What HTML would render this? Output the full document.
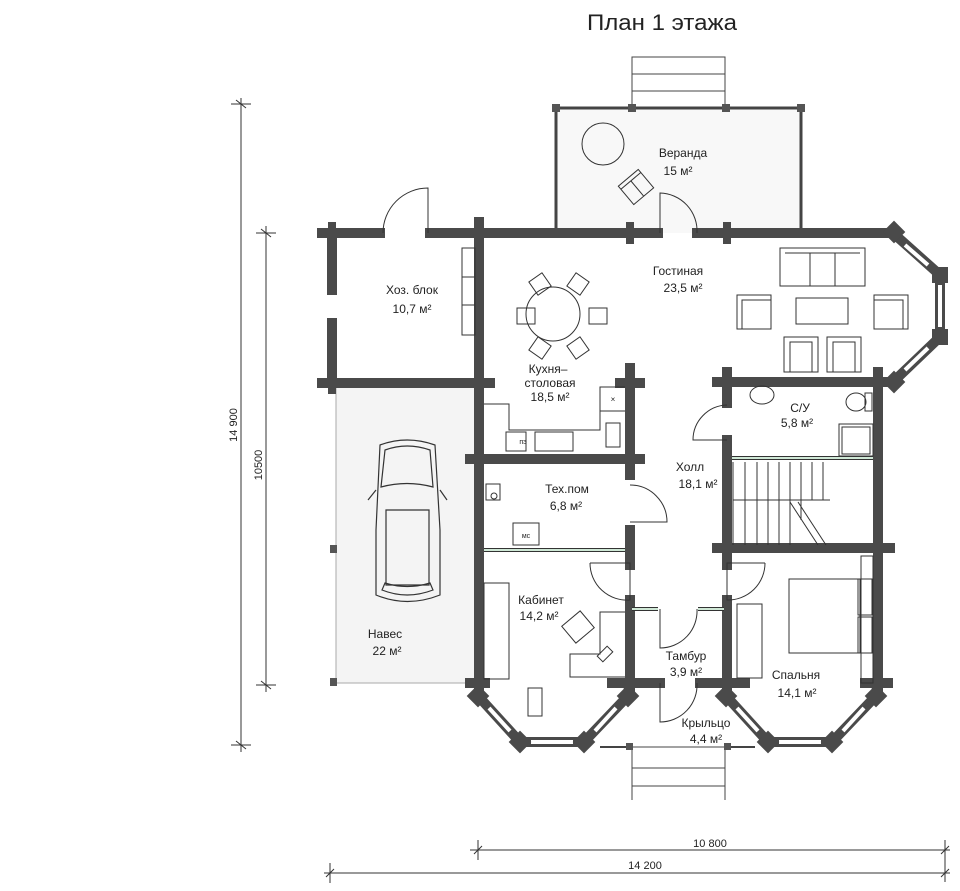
<!DOCTYPE html>
<html><head><meta charset="utf-8">
<style>
html,body{margin:0;padding:0;background:#fff;}
svg{display:block;}
text{font-family:"Liberation Sans Narrow","Liberation Sans",sans-serif;fill:#222;}
</style></head>
<body>
<svg width="960" height="891" viewBox="0 0 960 891" xmlns="http://www.w3.org/2000/svg">
<text x="662" y="30" font-size="22" text-anchor="middle" fill="#111" textLength="150" lengthAdjust="spacingAndGlyphs">План 1 этажа</text>

<rect x="336" y="383" width="142" height="300" fill="#f4f4f4" stroke="#aaa" stroke-width="1"/>
<rect x="556" y="108" width="245" height="125" fill="#f8f8f8"/>

<g stroke="#444" fill="none">
  <rect x="632" y="57" width="93" height="51" stroke-width="1"/>
  <line x1="632" y1="74" x2="725" y2="74"/>
  <line x1="632" y1="91" x2="725" y2="91"/>
  <line x1="556" y1="108" x2="801" y2="108" stroke-width="3"/>
  <line x1="556" y1="108" x2="556" y2="233" stroke-width="3"/>
  <line x1="801" y1="108" x2="801" y2="233" stroke-width="3"/>
</g>
<g fill="#555">
  <rect x="552" y="104" width="8" height="8"/><rect x="628" y="104" width="8" height="8"/>
  <rect x="722" y="104" width="8" height="8"/><rect x="797" y="104" width="8" height="8"/>
</g>
<circle cx="603" cy="144" r="21" fill="none" stroke="#333"/>
<g transform="translate(636,187) rotate(-40)" fill="none" stroke="#333">
  <rect x="-13" y="-12" width="26" height="24"/><line x1="-13" y1="-8" x2="13" y2="-8"/><line x1="0" y1="-8" x2="0" y2="12"/>
</g>

<g stroke="#444" fill="none">
  <line x1="632" y1="747" x2="632" y2="800"/><line x1="725" y1="747" x2="725" y2="800"/>
  <line x1="632" y1="747" x2="725" y2="747"/>
  <line x1="632" y1="768" x2="725" y2="768"/><line x1="632" y1="786" x2="725" y2="786"/>
  <line x1="600" y1="747" x2="632" y2="747" stroke-width="2"/><line x1="725" y1="747" x2="755" y2="747" stroke-width="2"/>
</g>
<rect x="626" y="743" width="7" height="7" fill="#555"/><rect x="724" y="743" width="7" height="7" fill="#555"/>

<rect x="330" y="545" width="7" height="8" fill="#555"/><rect x="330" y="678" width="7" height="8" fill="#555"/>

<g stroke="#4a4a4a" stroke-width="10" fill="none" stroke-linecap="square">
  <line x1="322" y1="233" x2="380" y2="233"/>
  <line x1="430" y1="233" x2="552" y2="233"/>
  <line x1="560" y1="233" x2="658" y2="233"/>
  <line x1="697" y1="233" x2="797" y2="233"/>
  <line x1="806" y1="233" x2="893" y2="233"/>
  <line x1="332" y1="233" x2="332" y2="290"/>
  <line x1="332" y1="323" x2="332" y2="383"/>
  <line x1="322" y1="383" x2="490" y2="383"/>
  <line x1="479" y1="222" x2="479" y2="690"/>
  <line x1="630" y1="368" x2="630" y2="460"/>
  <line x1="620" y1="383" x2="640" y2="383"/>
  <line x1="470" y1="459" x2="640" y2="459"/>
  <line x1="630" y1="459" x2="630" y2="475"/>
  <line x1="630" y1="530" x2="630" y2="565"/>
  <line x1="630" y1="600" x2="630" y2="690"/>
  <line x1="717" y1="382" x2="880" y2="382"/>
  <line x1="727" y1="372" x2="727" y2="403"/>
  <line x1="727" y1="440" x2="727" y2="565"/>
  <line x1="727" y1="600" x2="727" y2="690"/>
  <line x1="878" y1="372" x2="878" y2="690"/>
  <line x1="717" y1="548" x2="890" y2="548"/>
  <line x1="470" y1="683" x2="485" y2="683"/>
  <line x1="612" y1="683" x2="660" y2="683"/>
  <line x1="700" y1="683" x2="745" y2="683"/>
  <line x1="865" y1="683" x2="888" y2="683"/>
</g>
<g stroke="#4a4a4a" stroke-width="8">
  <line x1="332" y1="222" x2="332" y2="244"/><line x1="479" y1="222" x2="479" y2="244"/>
  <line x1="630" y1="222" x2="630" y2="244"/><line x1="727" y1="222" x2="727" y2="244"/>
  <line x1="332" y1="372" x2="332" y2="394"/><line x1="479" y1="372" x2="479" y2="394"/>
  <line x1="468" y1="459" x2="490" y2="459"/><line x1="619" y1="459" x2="641" y2="459"/>
  <line x1="717" y1="548" x2="738" y2="548"/><line x1="867" y1="548" x2="889" y2="548"/>
  <line x1="878" y1="372" x2="878" y2="394"/>
</g>

<g stroke="#4a4a4a" stroke-width="10" fill="none">
  <polyline points="893,233 940,275 940,337 893,382 878,382"/>
  <polyline points="479,683 479,697 520,742 584,742 627,697 630,683"/>
  <polyline points="727,683 727,697 768,742 832,742 875,697 878,683"/>
</g>
<g stroke="#fff" stroke-width="4" fill="none">
  <line x1="905" y1="245" x2="928" y2="265"/><line x1="940" y1="285" x2="940" y2="327"/><line x1="928" y1="348" x2="905" y2="370"/>
  <line x1="489" y1="708" x2="510" y2="731"/><line x1="531" y1="742" x2="573" y2="742"/><line x1="595" y1="731" x2="616" y2="708"/>
  <line x1="737" y1="708" x2="758" y2="731"/><line x1="779" y1="742" x2="821" y2="742"/><line x1="843" y1="731" x2="864" y2="708"/>
</g>
<g fill="#4a4a4a">
  <rect x="886" y="224" width="16" height="16" transform="rotate(45 894 232)"/>
  <rect x="932" y="267" width="16" height="16"/><rect x="932" y="329" width="16" height="16"/>
  <rect x="886" y="374" width="16" height="16" transform="rotate(45 894 382)"/>
  <rect x="470" y="688" width="16" height="16" transform="rotate(45 478 696)"/>
  <rect x="512" y="734" width="16" height="16" transform="rotate(45 520 742)"/>
  <rect x="576" y="734" width="16" height="16" transform="rotate(45 584 742)"/>
  <rect x="620" y="688" width="16" height="16" transform="rotate(45 628 696)"/>
  <rect x="718" y="688" width="16" height="16" transform="rotate(45 726 696)"/>
  <rect x="760" y="734" width="16" height="16" transform="rotate(45 768 742)"/>
  <rect x="824" y="734" width="16" height="16" transform="rotate(45 832 742)"/>
  <rect x="868" y="688" width="16" height="16" transform="rotate(45 876 696)"/>
</g>

<g stroke="#333" stroke-width="4"><line x1="484" y1="550" x2="625" y2="550"/><line x1="732" y1="458" x2="873" y2="458"/>
<line x1="632" y1="609" x2="658" y2="609"/><line x1="698" y1="609" x2="724" y2="609"/></g>
<g stroke="#cfe8d6" stroke-width="2"><line x1="484" y1="550" x2="625" y2="550"/><line x1="732" y1="458" x2="873" y2="458"/>
<line x1="632" y1="609" x2="658" y2="609"/><line x1="698" y1="609" x2="724" y2="609"/></g>

<g stroke="#333" fill="none" stroke-width="1">
  <path d="M428 233 V188 A45 45 0 0 0 383 233"/>
  <path d="M660 233 V193 A38 38 0 0 1 697 233"/>
  <path d="M727 405 A35 35 0 0 0 693 440 H727"/>
  <path d="M630 485 A37 37 0 0 1 667 522 H630"/>
  <path d="M590 563 H630 V600 A37 37 0 0 1 590 563"/>
  <path d="M765 563 H727 V600 A37 37 0 0 0 765 563"/>
  <path d="M660 609 V648 A37 37 0 0 0 697 609"/>
  <path d="M660 683 V722 A37 37 0 0 0 697 683"/>
</g>

<g stroke="#333" fill="none">
  <rect x="462" y="248" width="13" height="87"/>
  <line x1="462" y1="277" x2="475" y2="277"/><line x1="462" y1="305" x2="475" y2="305"/>
  <circle cx="553" cy="314" r="27"/>
  <rect x="517" y="308" width="18" height="16"/><rect x="589" y="308" width="18" height="16"/>
  <rect x="532" y="276" width="16" height="16" transform="rotate(-35 540 284)"/>
  <rect x="570" y="276" width="16" height="16" transform="rotate(35 578 284)"/>
  <rect x="532" y="340" width="16" height="16" transform="rotate(35 540 348)"/>
  <rect x="570" y="340" width="16" height="16" transform="rotate(-35 578 348)"/>
  <polyline points="484,404 509,404 509,430 600,430 600,387 625,387"/>
  <line x1="600" y1="411" x2="625" y2="411"/>
  <rect x="506" y="432" width="20" height="19"/><rect x="535" y="432" width="38" height="19"/>
  <rect x="606" y="423" width="14" height="24"/>
  <rect x="780" y="248" width="85" height="38"/><line x1="785" y1="253" x2="860" y2="253"/>
  <line x1="810" y1="253" x2="810" y2="286"/><line x1="835" y1="253" x2="835" y2="286"/>
  <rect x="737" y="295" width="34" height="34"/><rect x="742" y="300" width="29" height="29"/>
  <rect x="796" y="298" width="52" height="26"/>
  <rect x="874" y="295" width="34" height="34"/><rect x="874" y="300" width="29" height="29"/>
  <rect x="784" y="337" width="34" height="35"/><rect x="790" y="342" width="22" height="30"/>
  <rect x="827" y="337" width="34" height="35"/><rect x="833" y="342" width="22" height="30"/>
  <ellipse cx="762" cy="395" rx="12" ry="9"/>
  <ellipse cx="856" cy="402" rx="10" ry="9"/><rect x="865" y="393" width="7" height="18"/>
  <rect x="839" y="424" width="34" height="32"/><rect x="842" y="427" width="28" height="27"/>
  <g stroke-width="1">
    <line x1="733" y1="462" x2="733" y2="545"/><line x1="733" y1="500" x2="830" y2="500"/>
  </g>
  <rect x="486" y="484" width="14" height="16"/><circle cx="494" cy="496" r="3"/>
  <rect x="513" y="523" width="26" height="22"/>
  <rect x="484" y="583" width="25" height="96"/>
  <polyline points="625,612 600,612 600,654 570,654 570,677 625,677"/>
  <rect x="566" y="616" width="24" height="22" transform="rotate(-40 578 627)"/>
  <rect x="598" y="650" width="14" height="8" transform="rotate(-45 605 654)"/>
  <rect x="528" y="688" width="14" height="28"/>
  <rect x="737" y="604" width="25" height="74"/>
  <rect x="789" y="579" width="71" height="74"/>
  <rect x="858" y="579" width="14" height="36"/><rect x="858" y="617" width="14" height="36"/>
  <rect x="861" y="556" width="12" height="127"/>
</g>
<g stroke="#333" stroke-width="1">
  <line x1="745" y1="462" x2="745" y2="545"/><line x1="757" y1="462" x2="757" y2="545"/>
  <line x1="768" y1="462" x2="768" y2="545"/><line x1="779" y1="462" x2="779" y2="545"/>
  <line x1="790" y1="462" x2="790" y2="545"/><line x1="801" y1="462" x2="801" y2="520"/>
  <line x1="812" y1="462" x2="812" y2="500"/><line x1="823" y1="462" x2="823" y2="500"/>
  <line x1="790" y1="502" x2="818" y2="545"/><line x1="798" y1="502" x2="826" y2="545"/>
</g>

<g stroke="#333" fill="none" stroke-width="1.2">
  <path d="M380 445 Q407 435 435 445 L440 530 L440 595 Q407 608 376 595 L376 530 Z"/>
  <path d="M385 450 Q407 442 430 450 L433 487 Q407 480 381 487 Z"/>
  <path d="M386 510 L429 510 L429 585 L386 585 Z"/>
  <path d="M382 590 Q407 600 433 590 L430 583 Q407 590 385 583 Z"/>
  <path d="M376 490 L368 500 M440 490 L447 500"/>
</g>

<g font-size="12" text-anchor="middle">
  <text x="412" y="294">Хоз. блок</text><text x="412" y="313">10,7 м²</text>
  <text x="683" y="157">Веранда</text><text x="678" y="175">15 м²</text>
  <text x="678" y="275">Гостиная</text><text x="683" y="292">23,5 м²</text>
  <text x="548" y="373">Кухня–</text><text x="550" y="387">столовая</text><text x="550" y="401">18,5 м²</text>
  <text x="800" y="412">С/У</text><text x="797" y="427">5,8 м²</text>
  <text x="690" y="471">Холл</text><text x="698" y="488">18,1 м²</text>
  <text x="567" y="493">Тех.пом</text><text x="566" y="510">6,8 м²</text>
  <text x="541" y="604">Кабинет</text><text x="539" y="620">14,2 м²</text>
  <text x="686" y="660">Тамбур</text><text x="686" y="676">3,9 м²</text>
  <text x="796" y="679">Спальня</text><text x="797" y="697">14,1 м²</text>
  <text x="706" y="727">Крыльцо</text><text x="706" y="743">4,4 м²</text>
  <text x="385" y="638">Навес</text><text x="387" y="655">22 м²</text>
  <text x="523" y="444" font-size="7">пэ</text><text x="526" y="538" font-size="7">мс</text>
  <text x="613" y="402" font-size="8">×</text>
</g>

<g stroke="#333" stroke-width="1">
  <line x1="241" y1="98" x2="241" y2="752"/>
  <line x1="231" y1="104" x2="251" y2="104"/><line x1="236" y1="100" x2="246" y2="108"/>
  <line x1="231" y1="745" x2="251" y2="745"/><line x1="236" y1="741" x2="246" y2="749"/>
  <line x1="266" y1="226" x2="266" y2="692"/>
  <line x1="256" y1="233" x2="276" y2="233"/><line x1="261" y1="229" x2="271" y2="237"/>
  <line x1="256" y1="685" x2="276" y2="685"/><line x1="261" y1="681" x2="271" y2="689"/>
  <line x1="470" y1="850" x2="950" y2="850"/>
  <line x1="478" y1="840" x2="478" y2="860"/><line x1="474" y1="854" x2="482" y2="846"/>
  <line x1="945" y1="840" x2="945" y2="882"/><line x1="941" y1="854" x2="949" y2="846"/>
  <line x1="324" y1="873" x2="950" y2="873"/>
  <line x1="330" y1="863" x2="330" y2="883"/><line x1="326" y1="877" x2="334" y2="869"/>
  <line x1="941" y1="877" x2="949" y2="869"/>
</g>
<g font-size="11" text-anchor="middle">
  <text x="710" y="847">10 800</text>
  <text x="645" y="869">14 200</text>
  <text transform="translate(237,425) rotate(-90)">14 900</text>
  <text transform="translate(262,465) rotate(-90)">10500</text>
</g>
</svg>
</body></html>
